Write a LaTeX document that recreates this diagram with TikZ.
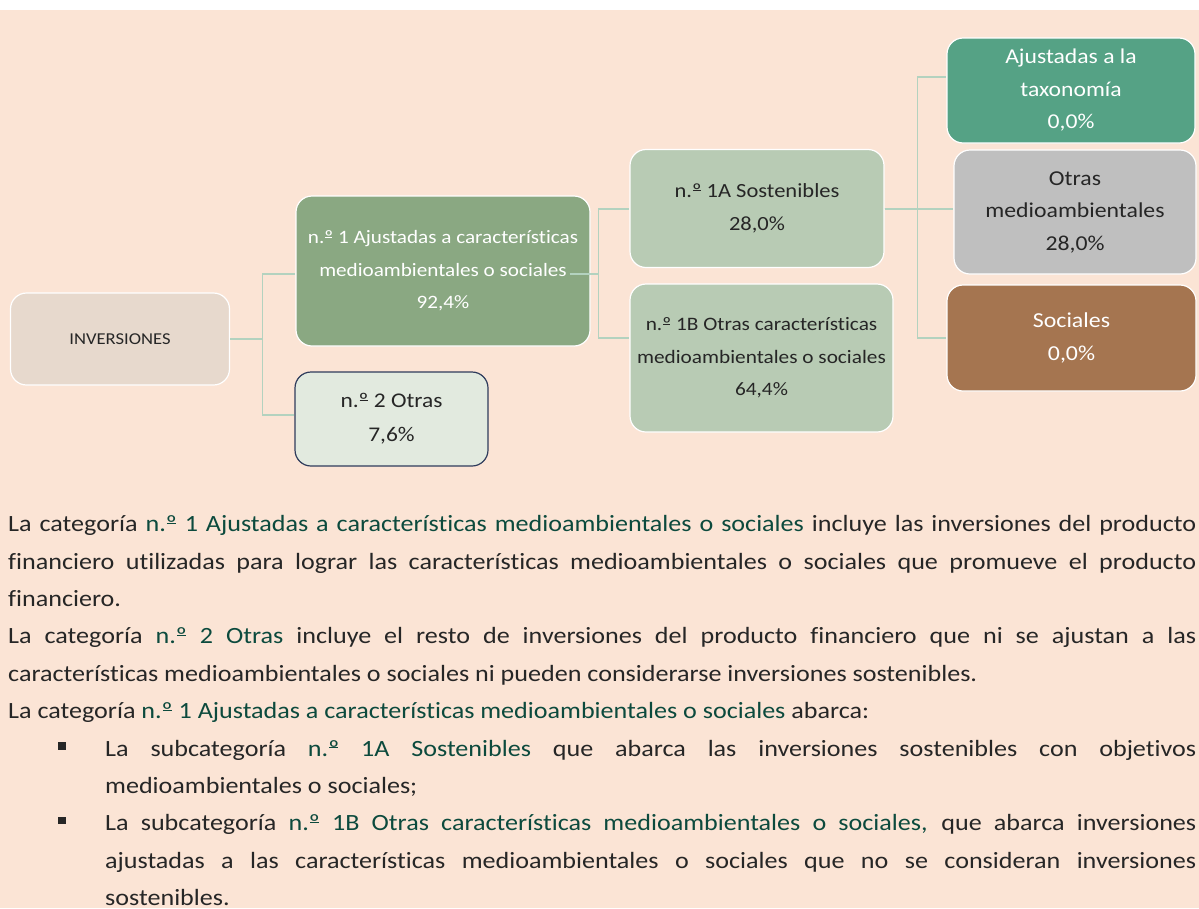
\documentclass[tikz,border=0pt]{standalone}
\usepackage{fontspec}
\setmainfont{Carlito}[FakeStretch=1.12,Ligatures=NoCommon]
\definecolor{bg}{HTML}{FBE4D5}
\definecolor{invfill}{HTML}{E7D9CD}
\definecolor{onefill}{HTML}{8AA882}
\definecolor{twofill}{HTML}{E2EADF}
\definecolor{twodraw}{HTML}{2F3C5C}
\definecolor{subfill}{HTML}{B8CBB4}
\definecolor{ajfill}{HTML}{55A285}
\definecolor{otfill}{HTML}{BFBFBF}
\definecolor{sofill}{HTML}{A57550}
\definecolor{conncol}{HTML}{B3D2BF}
\definecolor{txtdark}{HTML}{262626}
\definecolor{hlcol}{HTML}{0C4A3D}
\newcommand\hlt[1]{\textcolor{hlcol}{#1}}
\newsavebox\ordbox
\newcommand\ordo{\leavevmode\sbox\ordbox{º}\rlap{\kern0.1\wd\ordbox\rule[0.7ex]{0.8\wd\ordbox}{0.045em}}\usebox\ordbox}
\begin{document}
\begin{tikzpicture}[x=1pt,y=-1pt,
  box/.style={draw=white, line width=1.2pt, rounded corners=16pt, align=center,
    inner sep=0pt, text=txtdark},
  fs/.style={font=\fontsize{#1}{32.5}\selectfont},
  conn/.style={draw=conncol, line width=1.2pt}]
\useasboundingbox (0,0) rectangle (1199,908);
\fill[white] (0,0) rectangle (1199,10);
\fill[bg] (0,10) rectangle (1199,908);

\node[box, fill=invfill, minimum width=219pt, minimum height=92pt, fs=16.6] (inv) at (120,339) {INVERSIONES};
\node[box, fill=onefill, text=white, minimum width=294pt, minimum height=150pt, fs=18.9] (n1) at (443,271)
  {n.\ordo{} 1 Ajustadas a características\\medioambientales o sociales\\92,4\%};
\node[box, fill=twofill, draw=twodraw, minimum width=193pt, minimum height=94pt,
  font=\fontsize{20.9}{34}\selectfont] (n2) at (391.5,419) {n.\ordo{} 2 Otras\\7,6\%};
\node[box, fill=subfill, minimum width=254pt, minimum height=118pt, fs=20.1] (s1a) at (757,208.5)
  {n.\ordo{} 1A Sostenibles\\28,0\%};
\node[box, fill=subfill, minimum width=263pt, minimum height=148pt, fs=19] (s1b) at (761.5,358)
  {n.\ordo{} 1B Otras características\\medioambientales o sociales\\64,4\%};
\node[box, fill=ajfill, text=white, minimum width=248pt, minimum height=105pt, fs=21.1] (aj) at (1071,90.5)
  {Ajustadas a la\\taxonomía\\0,0\%};
\node[box, fill=otfill, minimum width=242pt, minimum height=124pt, fs=21.2] (ot) at (1075,212)
  {Otras\\medioambientales\\28,0\%};
\node[box, fill=sofill, text=white, minimum width=249pt, minimum height=106pt, fs=21.3] (so) at (1071.5,338)
  {Sociales\\0,0\%};

\draw[conn] (inv.east) -- ++(32.5,0) |- ([yshift=-3pt]n1.west);
\draw[conn] (inv.east) -- ++(32.5,0) |- ([yshift=4pt]n2.west);
\draw[conn] ([xshift=-21pt,yshift=-3pt]n1.east) -- ++(29,0) |- ([yshift=-0.5pt]s1a.west);
\draw[conn] ([xshift=-21pt,yshift=-3pt]n1.east) -- ++(29,0) |- ([yshift=20pt]s1b.west);
\draw[conn] ([yshift=-0.5pt]s1a.east) -- ++(32.5,0) |- ([yshift=13.5pt]aj.west);
\draw[conn] ([yshift=-0.5pt]s1a.east) -- ++(32.5,0) |- ([yshift=3pt]ot.west);
\draw[conn] ([yshift=-0.5pt]s1a.east) -- ++(32.5,0) |- (so.west);

\node[anchor=base west, inner sep=0pt, text width=1188pt, align=justify,
  font=\fontsize{23.3}{37.4}\selectfont, text=txtdark] (body) at (8,531.7) {%
La categoría \hlt{n.\ordo{} 1 Ajustadas a características medioambientales o sociales} incluye las inversiones del producto\linebreak
financiero utilizadas para lograr las características medioambientales o sociales que promueve el producto\linebreak
financiero.\par
La categoría \hlt{n.\ordo{} 2 Otras} incluye el resto de inversiones del producto financiero que ni se ajustan a las\linebreak
características medioambientales o sociales ni pueden considerarse inversiones sostenibles.\par
La categoría \hlt{n.\ordo{} 1 Ajustadas a características medioambientales o sociales} abarca:
\begin{list}{\rule[6.5pt]{7.5pt}{7.5pt}}{\setlength\leftmargin{97pt}\setlength\labelwidth{7.5pt}%
  \setlength\labelsep{39.5pt}\setlength\topsep{0pt}\setlength\partopsep{0pt}%
  \setlength\itemsep{0pt}\setlength\parsep{0pt}\setlength\itemindent{0pt}\setlength\listparindent{0pt}}
\item La subcategoría \hlt{n.\ordo{} 1A Sostenibles} que abarca las inversiones sostenibles con objetivos\linebreak
medioambientales o sociales;
\item La subcategoría \hlt{n.\ordo{} 1B Otras características medioambientales o sociales,} que abarca inversiones\linebreak
ajustadas a las características medioambientales o sociales que no se consideran inversiones\linebreak
sostenibles.
\end{list}};
\end{tikzpicture}
\end{document}
